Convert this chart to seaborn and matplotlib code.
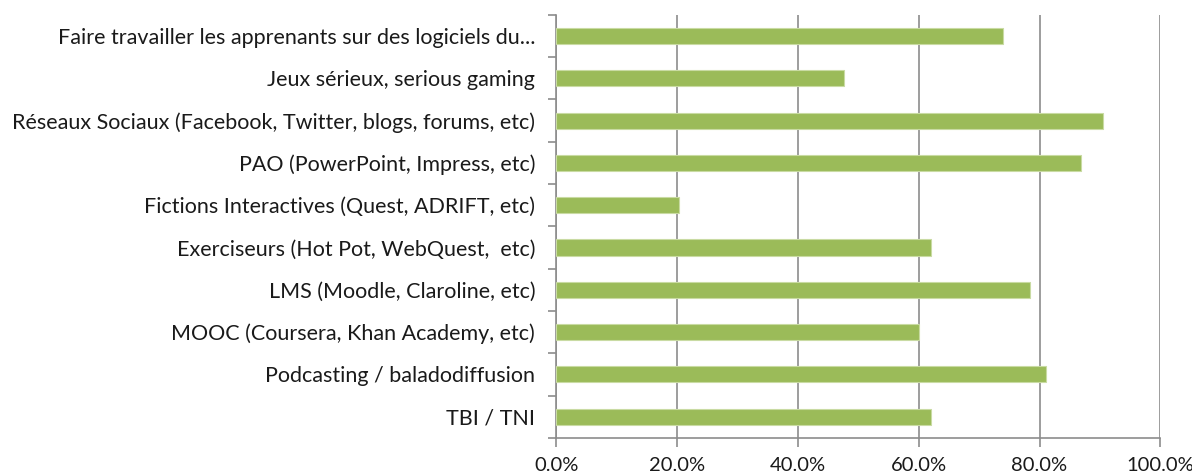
import numpy as np
import pandas as pd
import matplotlib
matplotlib.use('Agg')
import matplotlib.pyplot as plt
import seaborn as sns
from matplotlib.ticker import FixedLocator, PercentFormatter

categories = [
    "Faire travailler les apprenants sur des logiciels du...",
    "Jeux sérieux, serious gaming",
    "Réseaux Sociaux (Facebook, Twitter, blogs, forums, etc)",
    "PAO (PowerPoint, Impress, etc)",
    "Fictions Interactives (Quest, ADRIFT, etc)",
    "Exerciseurs (Hot Pot, WebQuest,  etc)",
    "LMS (Moodle, Claroline, etc)",
    "MOOC (Coursera, Khan Academy, etc)",
    "Podcasting / baladodiffusion",
    "TBI / TNI",
]
values = [74.0, 47.7, 90.5, 86.9, 20.4, 62.1, 78.5, 60.0, 81.1, 62.1]
x_ticks = [0, 20, 40, 60, 80, 100]

df = pd.DataFrame({'outil': categories, 'pct': values})

sns.set_theme(style='white')
plt.rcParams['font.family'] = ['Lato', 'DejaVu Sans']

fig = plt.figure(figsize=(11.92, 4.76), dpi=100)
ax = fig.add_axes([0.4665, 0.080, 0.507, 0.889])

sns.barplot(data=df, x='pct', y='outil', orient='h', color='#9BBB59',
            saturation=1, width=0.38, edgecolor='#C9DBA3', linewidth=0.8,
            zorder=3, ax=ax)

ax.set_xlim(0, 100)
ax.set_ylim(9.5, -0.5)
ax.xaxis.set_major_locator(FixedLocator(x_ticks))
ax.xaxis.set_major_formatter(PercentFormatter(decimals=1))
ax.grid(axis='x', color='#8C8C8C', linewidth=1.2, zorder=0)
ax.grid(axis='y', visible=False)
ax.set_xlabel('')
ax.set_ylabel('')

for side in ['top', 'right']:
    ax.spines[side].set_visible(False)
for side in ['left', 'bottom']:
    ax.spines[side].set_color('#8C8C8C')
    ax.spines[side].set_linewidth(1.2)

# category boundaries get the tick marks, like the original
ax.yaxis.set_minor_locator(FixedLocator(np.arange(-0.5, 10, 1)))
ax.tick_params(axis='y', which='major', length=0, pad=15, labelsize=15.5,
               labelcolor='#1a1a1a')
ax.tick_params(axis='y', which='minor', left=True, length=6, width=1.2,
               color='#8C8C8C', direction='out')
ax.tick_params(axis='x', which='major', bottom=True, length=6.5, width=1.2,
               color='#8C8C8C', direction='out', pad=7, labelsize=14.5,
               labelcolor='#1a1a1a')

fig.savefig('out.png', dpi=100)
plt.close()
